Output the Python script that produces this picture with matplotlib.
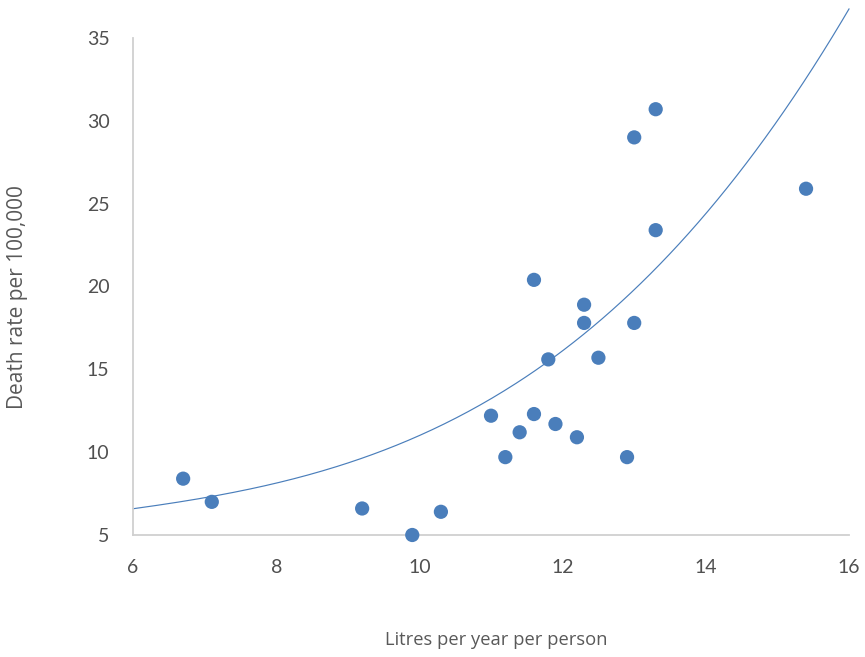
import numpy as np
import matplotlib
matplotlib.use("Agg")
import matplotlib.pyplot as plt

# Alcohol consumption (litres per year per person) vs death rate per 100,000
litres = [6.7, 7.1, 9.2, 9.9, 10.3, 11.0, 11.2, 11.4, 11.6, 11.6, 11.8,
          11.9, 12.2, 12.3, 12.3, 12.5, 12.9, 13.0, 13.3, 13.3, 13.0, 15.4]
death_rate = [8.4, 7.0, 6.6, 5.0, 6.4, 12.2, 9.7, 11.2, 12.3, 20.4, 15.6,
              11.7, 10.9, 18.9, 17.8, 15.7, 9.7, 29.0, 30.7, 23.4, 17.8, 25.9]

# Trendline readings (litres, death rate)
trend_x = [6.0, 7.77, 9.17, 9.87, 10.57, 10.85, 11.82, 12.38, 12.9, 13.36,
           14.3, 15.22, 15.97]
trend_y = [6.57, 8.32, 9.83, 10.9, 11.94, 12.54, 15.26, 17.2, 19.2, 21.6,
           26.6, 31.7, 36.5]

x_ticks = [6, 8, 10, 12, 14, 16]
y_ticks = [5, 10, 15, 20, 25, 30, 35]

point_color = "#4a7ebb"
axis_color = "#d0d0d0"
text_color = "#595959"
tick_color = "#505050"

fig = plt.figure(figsize=(8.65, 6.57), dpi=100)
ax = fig.add_axes([0.1538, 0.1857, 0.8277, 0.7565])

# Smooth cubic trendline through the readings, ends held firmly
weights = np.ones(len(trend_x))
weights[0] = weights[-1] = 4.0
coef = np.polyfit(trend_x, trend_y, 3, w=weights)
xs = np.linspace(6, 16, 300)
ax.plot(xs, np.polyval(coef, xs), color=point_color, lw=0.85, clip_on=False, zorder=2)

ax.scatter(litres, death_rate, s=105, color=point_color, edgecolors="none",
           zorder=3, clip_on=False)

ax.set_xlim(6, 16)
ax.set_ylim(5, 35)
ax.set_xticks(x_ticks)
ax.set_yticks(y_ticks)

for side in ("top", "right"):
    ax.spines[side].set_visible(False)
for side in ("left", "bottom"):
    ax.spines[side].set_color(axis_color)
    ax.spines[side].set_linewidth(1.3)

ax.tick_params(length=0, labelsize=14, labelcolor=tick_color)
ax.tick_params(axis="y", pad=17)
ax.tick_params(axis="x", pad=17)
for lab in ax.get_xticklabels() + ax.get_yticklabels():
    lab.set_fontfamily("Lato")

ax.set_xlabel("Litres per year per person", fontsize=13.2, color=text_color,
              family="Open Sans", labelpad=0)
ax.set_ylabel("Death rate per 100,000", fontsize=15, color=text_color,
              family="Open Sans", labelpad=0)
ax.xaxis.set_label_coords(0.508, -0.193)
ax.yaxis.set_label_coords(-0.147, 0.479)

fig.savefig("out.png", dpi=100)
